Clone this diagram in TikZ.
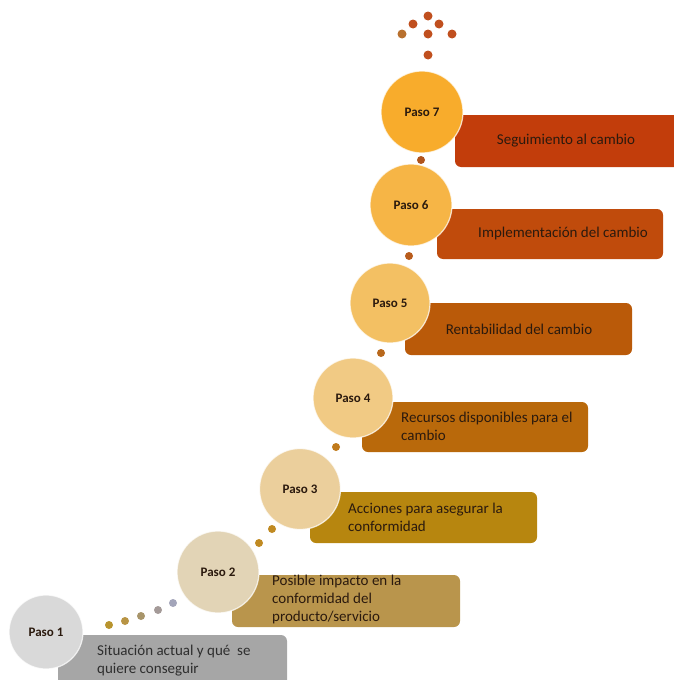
\documentclass[tikz,border=0pt]{standalone}
\usepackage{fontspec}
\setmainfont{Carlito}

% circle fills, from grey to orange
\definecolor{c1}{HTML}{D9D9D9}
\definecolor{c2}{HTML}{E2D4B6}
\definecolor{c3}{HTML}{EBCF9C}
\definecolor{c4}{HTML}{F1CA84}
\definecolor{c5}{HTML}{F3C063}
\definecolor{c6}{HTML}{F6B546}
\definecolor{c7}{HTML}{F8AC2C}
% bar fills
\definecolor{r1}{HTML}{A6A6A6}
\definecolor{r2}{HTML}{B9954C}
\definecolor{r3}{HTML}{B7860F}
\definecolor{r4}{HTML}{B9690B}
\definecolor{r5}{HTML}{BA5A09}
\definecolor{r6}{HTML}{C04B0C}
\definecolor{r7}{HTML}{C23D0B}
% text
\definecolor{ink}{HTML}{2B1A0E}
\definecolor{greyink}{HTML}{2E2E2E}
% dots
\definecolor{d1}{HTML}{B8942E}
\definecolor{d2}{HTML}{B89444}
\definecolor{d3}{HTML}{A8956A}
\definecolor{d4}{HTML}{A49A98}
\definecolor{d5}{HTML}{A3A5BA}
\definecolor{d23}{HTML}{C08A22}
\definecolor{d34}{HTML}{C07A1C}
\definecolor{d45}{HTML}{B8681C}
\definecolor{d56}{HTML}{B85C1C}
\definecolor{d67}{HTML}{B0541C}
\definecolor{dtop}{HTML}{C04F1E}
\definecolor{dtopl}{HTML}{B8702E}

\begin{document}
\begin{tikzpicture}[x=1pt,y=-1pt,
  pasobubble/.style={circle, fill=#1, draw=white, draw opacity=0.75, line width=1.2pt,
    inner sep=0pt, font=\fontsize{13}{15}\selectfont\bfseries, text=ink},
  stepbar/.style={rectangle, rounded corners=6pt, fill=#1, inner sep=0pt},
  bartext/.style={font=\fontsize{15}{18}\selectfont, text=ink, align=left, inner sep=0pt},
  dotmark/.style={circle, fill=#1, inner sep=0pt, minimum size=8pt},
]
\useasboundingbox (0,0) rectangle (674,680);
\clip (0,0) rectangle (674,680);

% bars behind the circles
\node[stepbar=r1, minimum width=229pt, minimum height=60pt] (bar1) at (172.5,665) {};
\node[stepbar=r2, minimum width=228pt, minimum height=52pt] (bar2) at (346,601) {};
\node[stepbar=r3, minimum width=227pt, minimum height=51pt] (bar3) at (423.5,517.5) {};
\node[stepbar=r4, minimum width=226pt, minimum height=50pt] (bar4) at (475,427) {};
\node[stepbar=r5, minimum width=227pt, minimum height=52pt] (bar5) at (518.5,329) {};
\node[stepbar=r6, minimum width=226pt, minimum height=50pt] (bar6) at (550,234) {};
\node[stepbar=r7, minimum width=230pt, minimum height=52pt] (bar7) at (570,141) {};

% bar texts
\node[bartext, anchor=west, text=greyink] (t1) at (97,661) {Situación actual y qué\ \ se\\quiere conseguir};
\node[bartext, anchor=west] (t2) at (272,599) {Posible impacto en la\\conformidad del\\producto/servicio};
\node[bartext, anchor=west] (t3) at (348,517) {Acciones para asegurar la\\conformidad};
\node[bartext, anchor=west] (t4) at (401,426) {Recursos disponibles para el\\cambio};
\node[bartext] (t5) at (519,329) {Rentabilidad del cambio};
\node[bartext] (t6) at (563,233) {Implementación del cambio};
\node[bartext] (t7) at (566,141) {Seguimiento al cambio};

% step circles
\node[pasobubble=c1, minimum size=74pt] (p1) at (46,632) {Paso 1};
\node[pasobubble=c2, minimum size=82pt] (p2) at (218,572) {Paso 2};
\node[pasobubble=c3, minimum size=81pt] (p3) at (300,489) {Paso 3};
\node[pasobubble=c4, minimum size=80pt] (p4) at (353,398) {Paso 4};
\node[pasobubble=c5, minimum size=80pt] (p5) at (390,303) {Paso 5};
\node[pasobubble=c6, minimum size=82pt] (p6) at (411,205) {Paso 6};
\node[pasobubble=c7, minimum size=82pt] (p7) at (422,112) {Paso 7};

% dotted trail between steps
\node[dotmark=d1] (a1) at (109,625) {};
\node[dotmark=d2] (a2) at (125,621) {};
\node[dotmark=d3] (a3) at (141,616) {};
\node[dotmark=d4] (a4) at (158,610) {};
\node[dotmark=d5] (a5) at (173,603) {};
\node[dotmark=d23] (b1) at (259,543) {};
\node[dotmark=d23] (b2) at (272,529) {};
\node[dotmark=d34] (b3) at (336,447) {};
\node[dotmark=d45] (b4) at (381,353) {};
\node[dotmark=d56] (b5) at (409,256) {};
\node[dotmark=d67] (b6) at (421,160) {};

% diamond of dots above the last step
\node[dotmark=dtop, minimum size=9pt] (e1) at (428,16) {};
\node[dotmark=dtop, minimum size=9pt] (e2) at (413,24) {};
\node[dotmark=dtop, minimum size=9pt] (e3) at (439,24) {};
\node[dotmark=dtopl, minimum size=9pt] (e4) at (402,34) {};
\node[dotmark=dtop, minimum size=9pt] (e5) at (428,34) {};
\node[dotmark=dtop, minimum size=9pt] (e6) at (452,34) {};
\node[dotmark=dtop, minimum size=9pt] (e7) at (428,55) {};
\end{tikzpicture}
\end{document}
